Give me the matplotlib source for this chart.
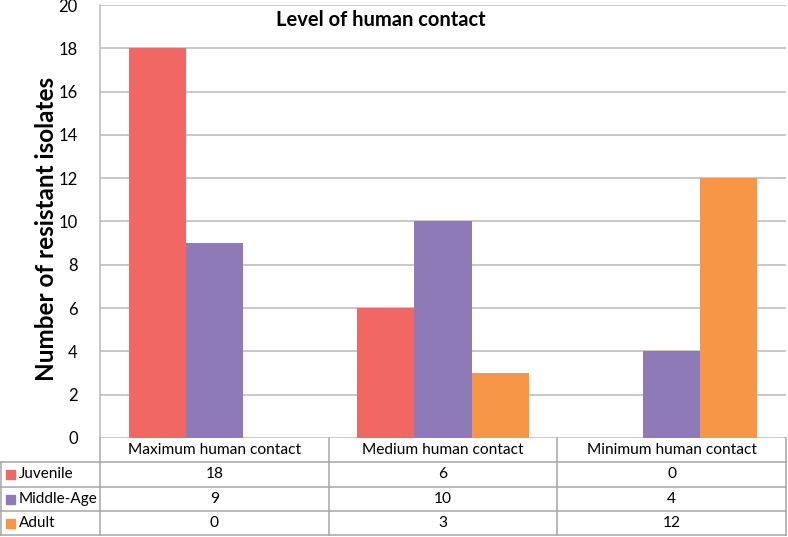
import numpy as np
import matplotlib.pyplot as plt
from matplotlib.lines import Line2D
from matplotlib.patches import Rectangle

plt.rcParams['font.family'] = ['Lato', 'DejaVu Sans']

categories = ['Maximum human contact', 'Medium human contact', 'Minimum human contact']
series_names = ['Juvenile', 'Middle-Age', 'Adult']
juvenile = [18, 6, 0]
middle_age = [9, 10, 4]
adult = [0, 3, 12]
colors = ['#F06763', '#8E7AB7', '#F79646']

W, H = 788, 537
fig = plt.figure(figsize=(W / 100, H / 100), dpi=100)

x0, x1 = 100, 786
ytop, ybot = 5, 438
ax = fig.add_axes([x0 / W, 1 - ybot / H, (x1 - x0) / W, (ybot - ytop) / H])

ind = np.arange(len(categories))
width = 0.25
values = [juvenile, middle_age, adult]
for i, (vals, c) in enumerate(zip(values, colors)):
    ax.bar(ind + (i - 1) * width, vals, width, color=c, zorder=2)

ax.set_xlim(-0.5, len(categories) - 0.5)
ax.set_ylim(0, 20)
ax.set_yticks(np.arange(0, 21, 2))
ax.set_xticks([])
ax.yaxis.grid(True, color='#BFBFBF', linewidth=1.2, zorder=0)
ax.tick_params(axis='y', length=0, pad=16, labelsize=12)
for s in ['top', 'right', 'bottom']:
    ax.spines[s].set_visible(False)
ax.spines['left'].set_color('#BFBFBF')
ax.spines['left'].set_linewidth(1.2)
ax.set_ylabel('Number of resistant isolates', fontsize=17.5, fontweight='bold')
ax.yaxis.label.set_verticalalignment('center')
ax.yaxis.set_label_coords((47 - x0) / (x1 - x0), (ybot - 229) / (ybot - ytop))
ax.text(0.41, 0.965, 'Level of human contact', transform=ax.transAxes,
        ha='center', va='center', fontsize=14.5, fontweight='bold')

# data table below the plot
gray = '#A6A6A6'
col_edges = [x0 + (x1 - x0) * k / len(categories) for k in range(len(categories) + 1)]
row_edges = [438, 462, 487, 511, 535]


def line(xa, ya, xb, yb):
    fig.add_artist(Line2D([xa / W, xb / W], [1 - ya / H, 1 - yb / H], color=gray, linewidth=1.1))


line(0, row_edges[1], x1, row_edges[1])
for r in row_edges[2:]:
    line(0, r, x1, r)
for cx in col_edges:
    line(cx, row_edges[0], cx, row_edges[-1])
line(0.5, row_edges[1], 0.5, row_edges[-1])

for j, cat in enumerate(categories):
    cx = (col_edges[j] + col_edges[j + 1]) / 2
    cy = (row_edges[0] + row_edges[1]) / 2
    fig.text(cx / W, 1 - cy / H, cat, ha='center', va='center', fontsize=11.2)

for i, (name, vals, c) in enumerate(zip(series_names, values, colors)):
    cy = (row_edges[i + 1] + row_edges[i + 2]) / 2
    fig.add_artist(Rectangle((6 / W, 1 - (cy + 4.5) / H), 9 / W, 9 / H, color=c))
    fig.text(19 / W, 1 - cy / H, name, ha='left', va='center', fontsize=11)
    for j, v in enumerate(vals):
        cx = (col_edges[j] + col_edges[j + 1]) / 2
        fig.text(cx / W, 1 - cy / H, str(v), ha='center', va='center', fontsize=11.2)

fig.savefig('out.png', dpi=100)
